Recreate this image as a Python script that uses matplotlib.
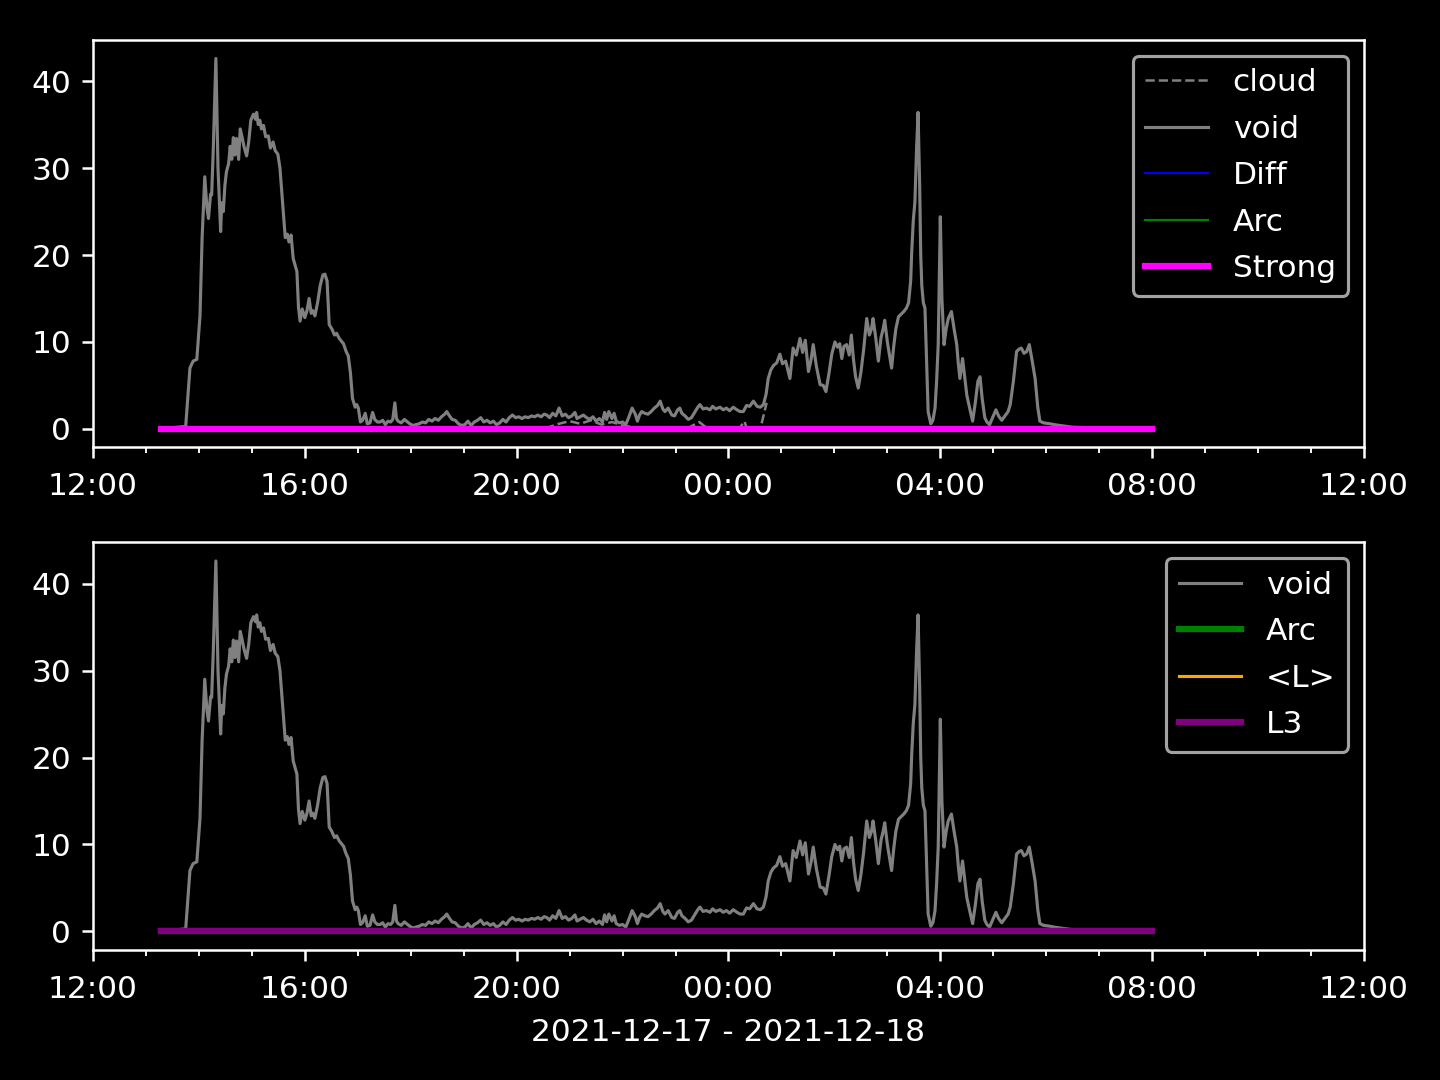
import numpy as np
import pandas as pd
import matplotlib
matplotlib.use("Agg")
import matplotlib.pyplot as plt
import matplotlib.dates as mdates

plt.style.use("dark_background")

start = pd.Timestamp("2021-12-17 12:00")
end = pd.Timestamp("2021-12-18 12:00")

# hours after 12:00 on 2021-12-17
void_h = [1.28, 1.75, 1.83, 1.89, 1.96, 2.02, 2.06, 2.11, 2.15, 2.18, 2.22, 2.24, 2.27, 2.32, 2.36,
          2.41, 2.43, 2.46, 2.49, 2.52, 2.56, 2.59, 2.62, 2.65, 2.68, 2.71, 2.75, 2.78, 2.81, 2.85,
          2.90, 2.94, 2.98, 3.03, 3.07, 3.09, 3.12, 3.15, 3.18, 3.22, 3.26, 3.31, 3.35, 3.40, 3.44,
          3.49, 3.53, 3.58, 3.63, 3.67, 3.70, 3.74, 3.78, 3.85, 3.88, 3.91, 3.95, 4.00, 4.04, 4.08,
          4.12, 4.15, 4.19, 4.24, 4.29, 4.34, 4.38, 4.42, 4.46, 4.51, 4.56, 4.60, 4.65, 4.69, 4.73,
          4.78, 4.82, 4.86, 4.90, 4.95, 4.98, 5.01, 5.05, 5.09, 5.14, 5.18, 5.23, 5.28, 5.32, 5.37,
          5.42, 5.47, 5.52, 5.57, 5.62, 5.66, 5.70, 5.73, 5.76, 5.82, 5.88, 5.92, 5.98, 6.04, 6.10,
          6.16, 6.22, 6.28, 6.34, 6.40, 6.46, 6.52, 6.58, 6.64, 6.68, 6.72, 6.78, 6.84, 6.90, 6.96,
          7.02, 7.08, 7.14, 7.20, 7.26, 7.32, 7.38, 7.44, 7.50, 7.56, 7.62, 7.68, 7.74, 7.80, 7.86,
          7.92, 7.98, 8.04, 8.10, 8.16, 8.22, 8.28, 8.34, 8.40, 8.46, 8.52, 8.57, 8.62, 8.68, 8.74,
          8.80, 8.86, 8.92, 8.98, 9.04, 9.10, 9.14, 9.20, 9.26, 9.32, 9.38, 9.44, 9.50, 9.56, 9.62,
          9.66, 9.70, 9.74, 9.80, 9.84, 9.88, 9.94, 10.00, 10.06, 10.12, 10.18, 10.24, 10.28, 10.32, 10.36,
          10.42, 10.48, 10.54, 10.60, 10.66, 10.71, 10.76, 10.80, 10.86, 10.93, 10.98, 11.04, 11.08, 11.12, 11.18,
          11.24, 11.30, 11.36, 11.42, 11.46, 11.52, 11.58, 11.65, 11.70, 11.76, 11.84, 11.90, 11.96, 12.02, 12.09,
          12.16, 12.22, 12.28, 12.34, 12.40, 12.47, 12.54, 12.60, 12.66, 12.71, 12.75, 12.80, 12.85, 12.91, 12.97,
          13.02, 13.08, 13.12, 13.16, 13.22, 13.28, 13.35, 13.40, 13.45, 13.51, 13.56, 13.60, 13.66, 13.73, 13.79,
          13.84, 13.90, 13.95, 14.01, 14.06, 14.10, 14.14, 14.18, 14.23, 14.28, 14.32, 14.36, 14.40, 14.45, 14.50,
          14.55, 14.61, 14.66, 14.70, 14.73, 14.78, 14.83, 14.88, 14.92, 14.95, 15.00, 15.04, 15.08, 15.12, 15.16,
          15.21, 15.26, 15.31, 15.36, 15.40, 15.44, 15.46, 15.49, 15.52, 15.55, 15.58, 15.61, 15.63, 15.65, 15.68,
          15.71, 15.74, 15.77, 15.82, 15.86, 15.90, 15.93, 15.96, 16.00, 16.03, 16.07, 16.11, 16.15, 16.21, 16.26,
          16.31, 16.34, 16.37, 16.42, 16.46, 16.50, 16.55, 16.61, 16.66, 16.71, 16.75, 16.79, 16.84, 16.88, 16.93,
          16.98, 17.05, 17.10, 17.16, 17.22, 17.28, 17.32, 17.38, 17.44, 17.49, 17.53, 17.58, 17.63, 17.68, 17.73,
          17.79, 17.84, 17.88, 17.95, 18.07, 18.15, 18.26, 18.5, 19.0, 20.0]
void_v = [0, 0.3, 7.0, 7.8, 8.0, 13.0, 22, 29.0, 25.5, 24.2, 27, 26.9, 32, 42.6, 30,
          22.7, 26, 25.0, 28, 29.6, 30.5, 32.5, 31.0, 33.5, 31.5, 33.4, 31, 34.5, 33.7, 32.5,
          31.4, 33, 35.5, 36.2, 35.6, 36.4, 35.0, 35.5, 34.5, 34.9, 33.6, 33.7, 32.3, 33.0, 32.0,
          31.6, 30.0, 26, 22.0, 22.4, 21.5, 22.3, 19.6, 18.1, 14.0, 12.4, 13.8, 12.8, 13.6, 15.0,
          13.3, 13.6, 13.0, 14.5, 16.5, 17.7, 17.8, 17.0, 12.0, 11.5, 10.8, 11.0, 10.4, 10.1, 9.8,
          8.9, 8.4, 6.5, 3.5, 2.5, 2.8, 2.4, 0.8, 1.0, 1.8, 0.6, 0.7, 1.9, 1.1, 0.8,
          0.8, 1.0, 0.5, 0.9, 0.8, 1.1, 3.0, 1.2, 0.9, 0.7, 1.1, 0.9, 0.6, 0.4, 0.5,
          0.6, 0.8, 0.7, 1.1, 0.9, 1.2, 1.0, 1.4, 1.7, 2.0, 1.6, 1.1, 1.0, 0.6, 0.4,
          0.5, 0.9, 0.4, 0.8, 1.0, 1.3, 0.8, 1.0, 0.7, 0.9, 0.5, 0.7, 1.1, 0.8, 1.3,
          1.6, 1.3, 1.4, 1.2, 1.4, 1.3, 1.5, 1.4, 1.6, 1.4, 1.7, 1.6, 1.3, 1.8, 1.5,
          2.4, 1.5, 1.7, 1.3, 1.5, 1.9, 1.2, 1.4, 1.6, 1.3, 1.1, 1.4, 0.9, 1.2, 0.8,
          1.9, 1.1, 2.0, 1.2, 1.8, 0.9, 0.7, 0.8, 0.5, 1.4, 2.4, 1.7, 0.9, 1.6, 2.0,
          1.8, 1.7, 2.0, 2.4, 2.7, 3.2, 2.3, 2.0, 2.4, 1.6, 1.5, 2.2, 2.4, 1.8, 1.5,
          1.1, 1.3, 1.9, 2.5, 2.8, 2.3, 2.4, 2.2, 2.6, 2.3, 2.5, 2.2, 2.4, 2.1, 2.5,
          2.2, 2.0, 2.0, 2.7, 2.6, 3.2, 2.6, 2.5, 2.8, 4.0, 5.8, 6.8, 7.3, 7.6, 8.6,
          7.5, 7.8, 6.8, 5.8, 9.3, 8.5, 10.4, 8.8, 10.2, 6.6, 8.0, 9.7, 7.2, 5.1, 5.0,
          4.3, 6.5, 8.6, 10.0, 9.4, 9.8, 8.1, 9.5, 9.7, 8.5, 10.8, 8.0, 6.0, 4.7, 6.5,
          9.0, 12.7, 10.8, 11.5, 12.7, 10.5, 7.8, 10.5, 11.5, 12.5, 10.0, 8.5, 7.0, 9.5, 11.5,
          12.9, 13.2, 13.5, 13.9, 14.5, 17.0, 20.4, 24, 26.1, 32, 36.4, 28, 20, 16.5, 14.5,
          13.9, 8.0, 2.0, 0.6, 1.0, 2.4, 5.5, 9.7, 24.4, 15.0, 9.7, 11.5, 12.7, 13.5, 11.5,
          9.7, 7.5, 5.8, 8.1, 6.0, 3.9, 2.5, 0.9, 3.0, 5.5, 6.0, 3.5, 1.3, 0.8, 0.5,
          1.2, 2.2, 1.5, 1.0, 1.5, 2.0, 2.8, 5.5, 8.9, 9.2, 9.3, 8.7, 8.9, 9.7, 8.0,
          5.8, 2.5, 0.9, 0.7, 0.6, 0.5, 0.4, 0.2, 0.1, 0.05]

cloud_h = [1.28, 8.5, 8.8, 9.0, 9.2, 9.4, 9.6, 9.8, 10.0, 10.2, 10.5, 11.2, 11.45, 11.55, 11.7,
           12.2, 12.3, 12.35, 12.6, 12.66, 12.72]
cloud_v = [0, 0, 0.6, 0.9, 0.6, 1.0, 0.5, 0.8, 0.4, 0.2, 0, 0, 0.8, 0.3, 0,
           0, 0.9, 0, 0, 1.5, 3.0]

# flat series (all zero over the run)
flat_h = [1.28, 20.0]
diff_v = [0, 0]
arc_v = [0, 0]
strong_v = [0, 0]
mean_l_v = [0, 0]
l3_v = [0, 0]


def to_time(h):
    return start + pd.to_timedelta(np.array(h), unit="h")


fig, (ax1, ax2) = plt.subplots(2, 1, figsize=(6.4, 4.8), dpi=225)
fig.subplots_adjust(left=0.0646, right=0.9472, top=0.963, bottom=0.1204, hspace=0.233)

ax1.plot(to_time(cloud_h), cloud_v, color="gray", ls="--", lw=0.8, label="cloud")
ax1.plot(to_time(void_h), void_v, color="gray", lw=1, label="void")
ax1.plot(to_time(flat_h), diff_v, color="blue", lw=0.7, label="Diff")
ax1.plot(to_time(flat_h), arc_v, color="green", lw=0.7, label="Arc")
ax1.plot(to_time(flat_h), strong_v, color="magenta", lw=2, label="Strong")
ax1.legend(loc="upper right", labelspacing=0.56)

ax2.plot(to_time(void_h), void_v, color="gray", lw=1, label="void")
ax2.plot(to_time(flat_h), arc_v, color="green", lw=2, label="Arc")
ax2.plot(to_time(flat_h), mean_l_v, color="orange", lw=1, label="<L>")
ax2.plot(to_time(flat_h), l3_v, color="purple", lw=2, label="L3")
ax2.legend(loc="upper right", labelspacing=0.56)

for ax in (ax1, ax2):
    ax.set_xlim(start, end)
    ax.xaxis.set_major_locator(mdates.HourLocator(byhour=[0, 4, 8, 12, 16, 20]))
    ax.xaxis.set_minor_locator(mdates.HourLocator())
    ax.xaxis.set_major_formatter(mdates.DateFormatter("%H:%M"))
    ax.set_yticks([0, 10, 20, 30, 40])
    ax.tick_params(axis="x", which="major", pad=4.5)

ax2.set_xlabel("2021-12-17 - 2021-12-18", labelpad=4.6)

plt.savefig("out.png", dpi=225)
